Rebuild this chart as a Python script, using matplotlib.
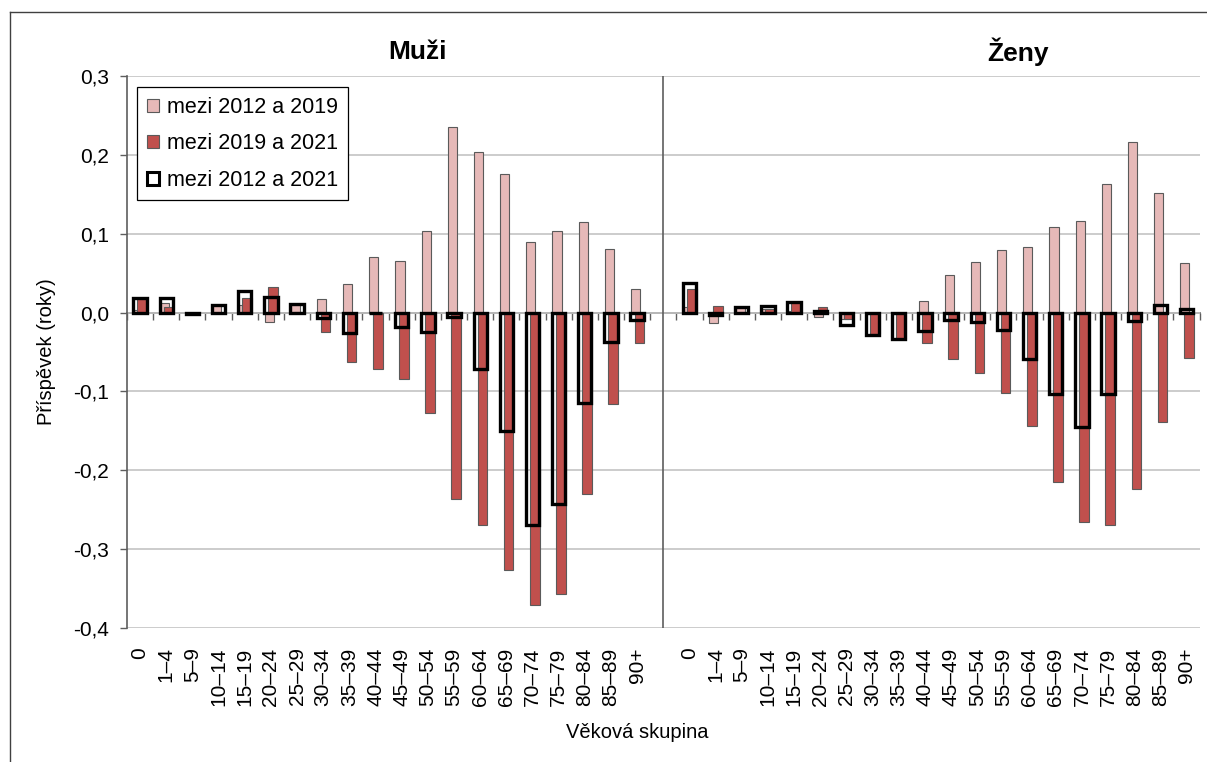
import numpy as np
import matplotlib
matplotlib.use("Agg")
import matplotlib.pyplot as plt
from matplotlib.patches import Patch
from matplotlib.lines import Line2D

plt.rcParams['font.family'] = ['Liberation Sans', 'DejaVu Sans']

# Age groups (same for both sexes)
age_groups = ['0', '1–4', '5–9', '10–14', '15–19', '20–24', '25–29', '30–34',
              '35–39', '40–44', '45–49', '50–54', '55–59', '60–64', '65–69',
              '70–74', '75–79', '80–84', '85–89', '90+']

# Contributions to life-expectancy change (years) - men
men_2012_2019 = [0.003, 0.012, -0.001, 0.010, 0.010, -0.012, 0.010, 0.017, 0.036, 0.071,
                 0.066, 0.103, 0.235, 0.203, 0.176, 0.090, 0.104, 0.115, 0.081, 0.030]
men_2019_2021 = [0.017, 0.007, -0.001, -0.001, 0.018, 0.032, 0.001, -0.025, -0.063, -0.071,
                 -0.084, -0.127, -0.236, -0.270, -0.326, -0.371, -0.357, -0.230, -0.116, -0.039]
men_2012_2021 = [0.019, 0.018, -0.002, 0.009, 0.027, 0.020, 0.011, -0.007, -0.026, -0.001,
                 -0.018, -0.025, -0.005, -0.071, -0.150, -0.270, -0.243, -0.115, -0.037, -0.009]

# Contributions to life-expectancy change (years) - women
women_2012_2019 = [0.007, -0.013, 0.006, 0.005, 0.002, -0.005, -0.008, -0.002, -0.002, 0.015,
                   0.048, 0.064, 0.079, 0.083, 0.109, 0.116, 0.163, 0.216, 0.152, 0.063]
women_2019_2021 = [0.030, 0.008, 0.001, 0.004, 0.013, 0.007, -0.008, -0.027, -0.033, -0.039,
                   -0.059, -0.077, -0.102, -0.144, -0.215, -0.266, -0.269, -0.224, -0.139, -0.058]
women_2012_2021 = [0.037, -0.003, 0.007, 0.008, 0.014, 0.002, -0.016, -0.028, -0.034, -0.024,
                   -0.010, -0.012, -0.022, -0.059, -0.103, -0.145, -0.103, -0.011, 0.010, 0.004]

panel_titles = ['Muži', 'Ženy']
series_labels = ['mezi 2012 a 2019', 'mezi 2019 a 2021', 'mezi 2012 a 2021']
y_ticks = [-0.4, -0.3, -0.2, -0.1, 0.0, 0.1, 0.2, 0.3]

C_LIGHT = '#E6B9B8'
C_DARK = '#C0504D'
C_EDGE = '#5A5A5A'
C_AXIS = '#5E5E5E'
C_GRID = '#C4C4C4'

W, H = 1207, 762
fig = plt.figure(figsize=(W / 100, H / 100), dpi=100)
ax = fig.add_axes([127 / W, 1 - 628 / H, (1199.6 - 127) / W, (628 - 76) / H])

n = len(age_groups)
x_men = np.arange(n)
x_women = np.arange(n) + n + 1
x_all = np.concatenate([x_men, x_women])

light = np.array(men_2012_2019 + women_2012_2019)
dark = np.array(men_2019_2021 + women_2019_2021)
total = np.array(men_2012_2021 + women_2012_2021)

ax.bar(x_all - 0.065, light, width=0.35, color=C_LIGHT, edgecolor=C_EDGE,
       linewidth=0.8, zorder=3)
ax.bar(x_all + 0.085, dark, width=0.37, color=C_DARK, edgecolor=C_EDGE,
       linewidth=0.8, zorder=4)
ax.bar(x_all, total, width=0.51, facecolor='none', edgecolor='black',
       linewidth=2.4, zorder=5)

ax.set_xlim(-0.5, 2 * n + 0.5)
ax.set_ylim(-0.4, 0.3)
ax.set_yticks(y_ticks)
ax.set_yticklabels([f'{v:.1f}'.replace('.', ',') for v in y_ticks])
ax.yaxis.grid(True, color=C_GRID, linewidth=1.2, zorder=0)
ax.set_axisbelow(True)

ax.set_xticks(x_all)
ax.set_xticklabels(age_groups * 2, rotation=90, va='top', ha='center')
ax.tick_params(axis='x', length=0, pad=14, labelsize=15)
ax.tick_params(axis='y', direction='out', length=5, width=1, color=C_AXIS,
               pad=8, labelsize=15)

for s in ['top', 'right', 'bottom']:
    ax.spines[s].set_visible(False)
ax.spines['left'].set_color(C_AXIS)
ax.spines['left'].set_linewidth(1.2)

# separator between the two panels
ax.axvline(n, color=C_AXIS, linewidth=1.2, zorder=2)

# category axis crossing at zero, with ticks between categories
zero_frac = (0 - (-0.4)) / (0.3 - (-0.4))
sec = ax.secondary_xaxis(zero_frac)
sec.set_xticks(np.arange(-0.5, 2 * n + 1, 1.0))
sec.tick_params(direction='in', length=5, width=1, color=C_AXIS,
                labeltop=False, labelbottom=False)
for s in sec.spines.values():
    s.set_color(C_AXIS)
    s.set_linewidth(1.2)
    s.set_zorder(6)

# panel titles
fig.text(417 / W, 1 - 52 / H, panel_titles[0], fontsize=19, fontweight='bold',
         ha='center', va='center')
fig.text(1018 / W, 1 - 52 / H, panel_titles[1], fontsize=19, fontweight='bold',
         ha='center', va='center')

fig.text(47 / W, 1 - 352 / H, 'Příspěvek (roky)', rotation=90, fontsize=14.5,
         ha='center', va='center')
fig.text(637 / W, 1 - 733 / H, 'Věková skupina', fontsize=14.5,
         ha='center', va='center')

handles = [Patch(facecolor=C_LIGHT, edgecolor=C_EDGE, linewidth=0.8),
           Patch(facecolor=C_DARK, edgecolor=C_EDGE, linewidth=0.8),
           Patch(facecolor='none', edgecolor='black', linewidth=2.2)]
leg = fig.legend(handles, series_labels, loc='upper left',
                 bbox_to_anchor=(137 / W, 1 - 87 / H), bbox_transform=fig.transFigure,
                 fontsize=15.5, frameon=True, fancybox=False, framealpha=1,
                 edgecolor='black', borderpad=0.45, labelspacing=0.72,
                 handlelength=0.55, handleheight=0.55, handletextpad=0.4,
                 borderaxespad=0)
leg.get_frame().set_linewidth(0.9)

# chart-area frame
fig.add_artist(Line2D([10 / W, 1.0], [1 - 12 / H, 1 - 12 / H], color='#404040',
                      linewidth=1.0, transform=fig.transFigure))
fig.add_artist(Line2D([10 / W, 10 / W], [0.0, 1 - 12 / H], color='#404040',
                      linewidth=1.0, transform=fig.transFigure))

fig.savefig('out.png', dpi=100)
